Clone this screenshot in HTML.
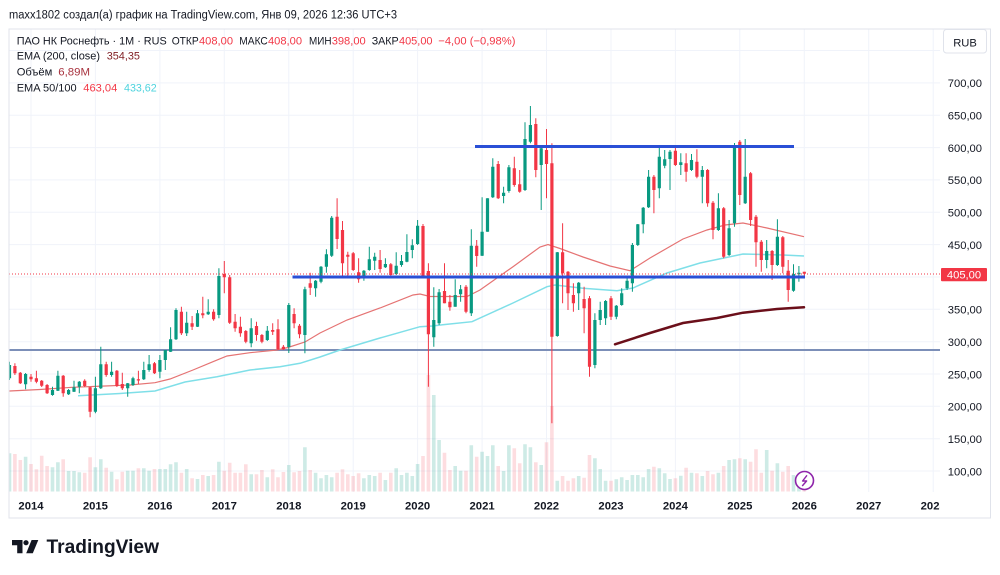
<!DOCTYPE html>
<html><head><meta charset="utf-8"><style>
html,body{margin:0;padding:0;background:#fff;width:1000px;height:575px;overflow:hidden}
svg{display:block}
text{font-family:"Liberation Sans","DejaVu Sans",sans-serif}
</style></head><body>
<svg width="1000" height="575" viewBox="0 0 1000 575" xmlns="http://www.w3.org/2000/svg">
<defs>
<clipPath id="plot"><rect x="9.5" y="29.5" width="930.5" height="463"/></clipPath>
<clipPath id="taxis"><rect x="9.5" y="493" width="930.5" height="25"/></clipPath>
</defs>
<rect width="1000" height="575" fill="#fff"/>
<text x="9" y="18.3" font-size="11.5" fill="#131722" textLength="388" lengthAdjust="spacingAndGlyphs">maxx1802 создал(а) график на TradingView.com, Янв 09, 2026 12:36 UTC+3</text>
<rect x="9" y="29" width="981.5" height="489" fill="none" stroke="#e0e3eb" stroke-width="1"/>
<g clip-path="url(#plot)">
<g stroke="#f0f3fa" stroke-width="1">
<path d="M31 29V492M95.4 29V492M159.9 29V492M224.3 29V492M288.8 29V492M353.2 29V492M417.6 29V492M482.1 29V492M546.5 29V492M611 29V492M675.4 29V492M739.8 29V492M804.3 29V492M868.7 29V492M933.2 29V492"/>
<path d="M9 50.5H940M9 82.9H940M9 115.2H940M9 147.6H940M9 179.9H940M9 212.3H940M9 244.6H940M9 277H940M9 309.3H940M9 341.7H940M9 374H940M9 406.3H940M9 438.7H940M9 471H940"/>
</g>
<path fill="rgba(8,153,129,0.2)" d="M7.7 453.3h3.6V491.5h-3.6zM23.8 456.7h3.6V491.5h-3.6zM50.7 467.3h3.6V491.5h-3.6zM56.1 462.3h3.6V491.5h-3.6zM66.8 471h3.6V491.5h-3.6zM72.2 471h3.6V491.5h-3.6zM77.5 472.3h3.6V491.5h-3.6zM93.6 467.3h3.6V491.5h-3.6zM99 459.3h3.6V491.5h-3.6zM109.8 471.7h3.6V491.5h-3.6zM125.9 470.7h3.6V491.5h-3.6zM131.2 470.7h3.6V491.5h-3.6zM142 468.3h3.6V491.5h-3.6zM147.3 470.7h3.6V491.5h-3.6zM158.1 469h3.6V491.5h-3.6zM163.5 469h3.6V491.5h-3.6zM168.8 464.3h3.6V491.5h-3.6zM174.2 462.3h3.6V491.5h-3.6zM184.9 469h3.6V491.5h-3.6zM195.7 479h3.6V491.5h-3.6zM206.4 476h3.6V491.5h-3.6zM217.1 461.7h3.6V491.5h-3.6zM249.4 474.3h3.6V491.5h-3.6zM265.5 477.3h3.6V491.5h-3.6zM287 465h3.6V491.5h-3.6zM303.1 447.3h3.6V491.5h-3.6zM313.8 472.7h3.6V491.5h-3.6zM319.2 478.3h3.6V491.5h-3.6zM324.6 475h3.6V491.5h-3.6zM329.9 477.3h3.6V491.5h-3.6zM362.1 478.3h3.6V491.5h-3.6zM367.5 475h3.6V491.5h-3.6zM372.9 476h3.6V491.5h-3.6zM383.6 480h3.6V491.5h-3.6zM394.4 468.3h3.6V491.5h-3.6zM399.7 475h3.6V491.5h-3.6zM405.1 472.7h3.6V491.5h-3.6zM410.5 476h3.6V491.5h-3.6zM415.8 464h3.6V491.5h-3.6zM432 395h3.6V491.5h-3.6zM437.3 440h3.6V491.5h-3.6zM453.4 466h3.6V491.5h-3.6zM458.8 470.7h3.6V491.5h-3.6zM469.5 445.3h3.6V491.5h-3.6zM480.3 451.7h3.6V491.5h-3.6zM485.7 456h3.6V491.5h-3.6zM491 445.3h3.6V491.5h-3.6zM501.8 471h3.6V491.5h-3.6zM507.1 445.3h3.6V491.5h-3.6zM523.2 444.3h3.6V491.5h-3.6zM528.6 447.3h3.6V491.5h-3.6zM539.4 465h3.6V491.5h-3.6zM555.5 480.7h3.6V491.5h-3.6zM576.9 476h3.6V491.5h-3.6zM593.1 458.3h3.6V491.5h-3.6zM598.4 469h3.6V491.5h-3.6zM603.8 480.7h3.6V491.5h-3.6zM614.5 479.3h3.6V491.5h-3.6zM619.9 477.3h3.6V491.5h-3.6zM625.3 480h3.6V491.5h-3.6zM630.6 475h3.6V491.5h-3.6zM636 475h3.6V491.5h-3.6zM641.4 477.3h3.6V491.5h-3.6zM646.8 469h3.6V491.5h-3.6zM657.5 468.3h3.6V491.5h-3.6zM662.9 473.3h3.6V491.5h-3.6zM668.2 479h3.6V491.5h-3.6zM679 475.7h3.6V491.5h-3.6zM689.7 472.7h3.6V491.5h-3.6zM700.5 476h3.6V491.5h-3.6zM716.6 472.7h3.6V491.5h-3.6zM727.3 460h3.6V491.5h-3.6zM732.7 459.3h3.6V491.5h-3.6zM743.4 459.3h3.6V491.5h-3.6zM764.9 450h3.6V491.5h-3.6zM775.6 463.3h3.6V491.5h-3.6zM791.7 475h3.6V491.5h-3.6zM797.1 478h3.6V491.5h-3.6z"/>
<path fill="rgba(242,54,69,0.17)" d="M13.1 454h3.6V491.5h-3.6zM18.5 460h3.6V491.5h-3.6zM29.2 464h3.6V491.5h-3.6zM34.6 469.3h3.6V491.5h-3.6zM39.9 455.7h3.6V491.5h-3.6zM45.3 466h3.6V491.5h-3.6zM61.4 459.3h3.6V491.5h-3.6zM82.9 472.7h3.6V491.5h-3.6zM88.3 457.3h3.6V491.5h-3.6zM104.4 467.7h3.6V491.5h-3.6zM115.1 479.3h3.6V491.5h-3.6zM120.5 471.7h3.6V491.5h-3.6zM136.6 468.3h3.6V491.5h-3.6zM152.7 469h3.6V491.5h-3.6zM179.6 472.7h3.6V491.5h-3.6zM190.3 478.3h3.6V491.5h-3.6zM201 475h3.6V491.5h-3.6zM211.8 475h3.6V491.5h-3.6zM222.5 470.7h3.6V491.5h-3.6zM227.9 462.7h3.6V491.5h-3.6zM233.3 472.7h3.6V491.5h-3.6zM238.6 472.7h3.6V491.5h-3.6zM244 464.3h3.6V491.5h-3.6zM254.7 474.3h3.6V491.5h-3.6zM260.1 470h3.6V491.5h-3.6zM270.9 469.3h3.6V491.5h-3.6zM276.2 477.3h3.6V491.5h-3.6zM281.6 472h3.6V491.5h-3.6zM292.3 472.3h3.6V491.5h-3.6zM297.7 471h3.6V491.5h-3.6zM308.4 470h3.6V491.5h-3.6zM335.3 472.7h3.6V491.5h-3.6zM340.7 469.3h3.6V491.5h-3.6zM346 474.3h3.6V491.5h-3.6zM351.4 476h3.6V491.5h-3.6zM356.8 473.3h3.6V491.5h-3.6zM378.3 472.7h3.6V491.5h-3.6zM389 472.7h3.6V491.5h-3.6zM421.2 456h3.6V491.5h-3.6zM426.6 375h3.6V491.5h-3.6zM442.7 452.7h3.6V491.5h-3.6zM448.1 470h3.6V491.5h-3.6zM464.2 470.7h3.6V491.5h-3.6zM474.9 456.7h3.6V491.5h-3.6zM496.4 466h3.6V491.5h-3.6zM512.5 448.3h3.6V491.5h-3.6zM517.9 463.3h3.6V491.5h-3.6zM534 462.3h3.6V491.5h-3.6zM544.7 442.3h3.6V491.5h-3.6zM550.1 406h3.6V491.5h-3.6zM560.8 476h3.6V491.5h-3.6zM566.2 480.7h3.6V491.5h-3.6zM571.6 478.3h3.6V491.5h-3.6zM582.3 477.7h3.6V491.5h-3.6zM587.7 455h3.6V491.5h-3.6zM609.2 480.7h3.6V491.5h-3.6zM652.1 466.7h3.6V491.5h-3.6zM673.6 478.3h3.6V491.5h-3.6zM684.3 467.7h3.6V491.5h-3.6zM695.1 473.3h3.6V491.5h-3.6zM705.8 471h3.6V491.5h-3.6zM711.2 474.3h3.6V491.5h-3.6zM721.9 466h3.6V491.5h-3.6zM738 458.3h3.6V491.5h-3.6zM748.8 461.7h3.6V491.5h-3.6zM754.2 449.3h3.6V491.5h-3.6zM759.5 472.7h3.6V491.5h-3.6zM770.3 470.7h3.6V491.5h-3.6zM781 471.7h3.6V491.5h-3.6zM786.4 466h3.6V491.5h-3.6zM802.5 485h3.6V491.5h-3.6z"/>
<path d="M9 350H940" stroke="#7c8fb8" stroke-width="2" fill="none"/>
<polyline fill="none" stroke="#e57373" stroke-width="1.2" points="9,391 40,389.5 72,387.3 105,386 130,385 155,382.7 170,379 193,370 213,361.7 227,356 250,352.7 277,350 288,347.5 305,342 320,333 347,320 380,308 413,295 420,294 430,296.5 467,296.5 480,290 513,266.7 540,247 548,244.5 560,248.5 583,257 610,266 630,270.7 650,258 683,239 707,230 725,225 743,223 767,228 804,236.7"/>
<polyline fill="none" stroke="#7fdfe8" stroke-width="1.5" points="78,395.7 120,393.5 155,391 185,382 217,376.7 250,370 280,366.7 300,363.3 320,357 340,350 380,338 420,326.7 432,326 445,324.5 472,321.7 513,303 547,286.7 555,285 583,288.3 617,290.7 633,288 667,273 700,263 743,254 783,255 804,256"/>
<polyline fill="none" stroke="#6b0f1a" stroke-width="2.5" stroke-linecap="round" points="615,344.3 650,333 683,323 717,318 743,312.7 777,309 804,307.3"/>
<path fill="none" stroke="#089981" stroke-width="1" d="M9.5 361.7V380M25.6 373V389.3M52.5 386.7V395.7M57.9 370.7V391M68.6 389V395M74 380.7V392M79.3 381V393.3M95.4 376.7V413.3M100.8 346.7V389M111.6 361.7V376.7M127.7 383V396.7M133 376.7V386M143.8 361.7V380M149.1 355V371.7M159.9 355V378.3M165.3 350V370M170.6 327.3V352M176 308.3V340M186.7 311.7V336M197.5 310V327M208.2 299.3V315M218.9 268.3V318.3M251.2 318.3V347.3M267.3 326V341M288.8 303V353M304.9 286.7V353.3M315.6 280V296.7M321 266V283.3M326.4 249.3V272.7M331.7 216V257M363.9 270V280.7M369.3 246.7V270.7M374.7 252.7V270M385.4 258.3V268M396.2 252.3V275M401.5 255V266.7M406.9 234.3V262.3M412.3 239.3V258.3M417.6 220V245M433.8 287.3V346.7M439.1 289V325M455.2 279.3V306.7M460.6 285V301.7M471.3 229.3V316M482.1 197.3V256M487.5 198.3V231.7M492.8 158.3V198M503.6 186.7V203.3M508.9 165V192.7M525 122.3V191M530.4 106V143.3M541.2 148V210M557.3 252V336.7M578.7 282V310M594.9 313.3V368.3M600.2 301.7V325M605.6 300V325M616.3 305V319.3M621.7 288.3V305.7M627.1 278V290M632.4 243V291.7M637.8 224V246M643.2 207V233.3M648.6 170V208M659.3 145V198.3M664.7 150V168.3M670 150V190M680.8 153.3V175M691.5 154V171M702.3 166V203.3M718.4 193.3V231M729.1 220V256M734.5 143V226.7M745.2 139V204M766.7 240V268.3M777.4 219.3V266M793.5 264.3V291.7M798.9 266V281.7"/>
<path fill="#089981" d="M7.9 365h3.2V378.3h-3.2zM24 374h3.2V384.3h-3.2zM50.9 390h3.2V395h-3.2zM56.3 375.7h3.2V390.7h-3.2zM67 390h3.2V394.3h-3.2zM72.4 387.3h3.2V391.7h-3.2zM77.7 381.7h3.2V386.7h-3.2zM93.8 388.3h3.2V411.7h-3.2zM99.2 364.3h3.2V388.3h-3.2zM110 371.7h3.2V375h-3.2zM126.1 383.3h3.2V388.3h-3.2zM131.4 378.3h3.2V385h-3.2zM142.2 370h3.2V379.3h-3.2zM147.5 364.3h3.2V370h-3.2zM158.3 360h3.2V371.7h-3.2zM163.7 350h3.2V360h-3.2zM169 339.3h3.2V351.7h-3.2zM174.4 310h3.2V339.3h-3.2zM185.1 322.7h3.2V333.3h-3.2zM195.9 313.3h3.2V326.7h-3.2zM206.6 311.7h3.2V314.3h-3.2zM217.3 276h3.2V315h-3.2zM249.6 328.3h3.2V343.3h-3.2zM265.7 330.7h3.2V340h-3.2zM287.2 305h3.2V347h-3.2zM303.3 289.3h3.2V335h-3.2zM314 280.7h3.2V288.3h-3.2zM319.4 266.7h3.2V281.7h-3.2zM324.8 254.3h3.2V266.7h-3.2zM330.1 217.7h3.2V255.7h-3.2zM362.3 270.7h3.2V277.7h-3.2zM367.7 259.3h3.2V270h-3.2zM373.1 256.7h3.2V260.7h-3.2zM383.8 264h3.2V267.3h-3.2zM394.6 265.7h3.2V274h-3.2zM399.9 261h3.2V265h-3.2zM405.3 252h3.2V261.7h-3.2zM410.7 245.3h3.2V250h-3.2zM416 225.7h3.2V244h-3.2zM432.2 320h3.2V337.3h-3.2zM437.5 292.3h3.2V323.3h-3.2zM453.6 295h3.2V306.7h-3.2zM459 289.3h3.2V294.3h-3.2zM469.7 245.7h3.2V313.3h-3.2zM480.5 231.7h3.2V255.7h-3.2zM485.9 198.3h3.2V231.7h-3.2zM491.2 166.7h3.2V197.3h-3.2zM502 192.7h3.2V196h-3.2zM507.3 167.3h3.2V191h-3.2zM523.4 139h3.2V190h-3.2zM528.8 125h3.2V141.7h-3.2zM539.6 148.3h3.2V165h-3.2zM555.7 252.3h3.2V336h-3.2zM577.1 282.7h3.2V293.3h-3.2zM593.3 320h3.2V365h-3.2zM598.6 310h3.2V320h-3.2zM604 301h3.2V318.3h-3.2zM614.7 305.7h3.2V316.7h-3.2zM620.1 293.3h3.2V305h-3.2zM625.5 280.7h3.2V288.3h-3.2zM630.8 245h3.2V283.3h-3.2zM636.2 224.3h3.2V245h-3.2zM641.6 207.7h3.2V224.3h-3.2zM647 176.7h3.2V207.3h-3.2zM657.7 156.7h3.2V188.3h-3.2zM663.1 159.3h3.2V165.7h-3.2zM668.4 151.7h3.2V159h-3.2zM679.2 162.3h3.2V165h-3.2zM689.9 160h3.2V170h-3.2zM700.7 170h3.2V176.7h-3.2zM716.8 208.3h3.2V230h-3.2zM727.5 228.3h3.2V255h-3.2zM732.9 145h3.2V223.3h-3.2zM743.6 176.7h3.2V203.3h-3.2zM765.1 251h3.2V260h-3.2zM775.8 236.7h3.2V265h-3.2zM791.9 274h3.2V290.7h-3.2zM797.3 272.7h3.2V274.3h-3.2z"/>
<path fill="none" stroke="#f23645" stroke-width="1" d="M14.9 363.3V375M20.3 372V384M31 374V381.7M36.4 370.7V383.3M41.7 380V387M47.1 384V394M63.2 375V396.7M84.7 379.3V387M90.1 387V417.3M106.2 361.7V376.7M116.9 370V387M122.3 372.7V390M138.4 370.7V384M154.5 362V374M181.4 306.7V335M192.1 316V330M202.8 296.7V318.3M213.6 309.3V320.7M224.3 261V293.3M229.7 275V324M235.1 314V331.7M240.4 316.7V336.7M245.8 330V343.3M256.5 321.7V340.7M261.9 334V343.3M272.7 323.3V335M278 319.3V350M283.4 345V350M294.1 308.3V328.3M299.5 324V338.3M310.2 272.7V295M337.1 198.3V249M342.5 221V276.7M347.8 251.7V276.7M353.2 252V271M358.6 258.3V282.7M380.1 250V272.7M390.8 263V276.7M423 224V276.7M428.4 263.3V386.7M444.5 263.3V303.3M449.9 295V310.7M466 285V313.3M476.7 240V266.7M498.2 161V199M514.3 156.7V186.7M519.7 170V192.7M535.8 118.3V177.3M546.5 129V198.3M551.9 143.3V423.3M562.6 223.3V303.3M568 271V310M573.4 283.3V311.7M584.1 286.7V333.3M589.5 296V376.7M611 296V320M653.9 175V213.3M675.4 145V166M686.1 153.3V181.7M696.9 149.3V178.3M707.6 169V206.7M713 201V239.3M723.7 207V258.3M739.8 140V205M750.6 172V226M756 215V266.7M761.3 240V271.7M772.1 250V280M782.8 236V273.3M788.2 260V301.7M804.3 271.8V278.3"/>
<path fill="#f23645" d="M13.3 366h3.2V373.3h-3.2zM18.7 372.7h3.2V383.3h-3.2zM29.4 376.7h3.2V379.3h-3.2zM34.8 378.3h3.2V381.7h-3.2zM40.1 380.7h3.2V385.7h-3.2zM45.5 385h3.2V393.3h-3.2zM61.6 375.7h3.2V393.3h-3.2zM83.1 380.7h3.2V386h-3.2zM88.5 387.3h3.2V411.7h-3.2zM104.6 364.3h3.2V375h-3.2zM115.3 370.7h3.2V386h-3.2zM120.7 384h3.2V388.3h-3.2zM136.8 379.3h3.2V380.5h-3.2zM152.9 363.3h3.2V373.3h-3.2zM179.8 311.7h3.2V333.3h-3.2zM190.5 323.3h3.2V326.7h-3.2zM201.2 313.3h3.2V315.3h-3.2zM212 311.7h3.2V319.3h-3.2zM222.7 274h3.2V277.3h-3.2zM228.1 277.3h3.2V322.7h-3.2zM233.5 321.7h3.2V328.3h-3.2zM238.8 326.7h3.2V333.3h-3.2zM244.2 331h3.2V341.7h-3.2zM254.9 326h3.2V335h-3.2zM260.3 335h3.2V341.7h-3.2zM271.1 330h3.2V331.7h-3.2zM276.4 329.3h3.2V349.3h-3.2zM281.8 346.7h3.2V349.3h-3.2zM292.5 314h3.2V323.3h-3.2zM297.9 325.7h3.2V334.3h-3.2zM308.6 283.3h3.2V287.7h-3.2zM335.5 216.7h3.2V239h-3.2zM340.9 230h3.2V263.3h-3.2zM346.2 254.7h3.2V256.7h-3.2zM351.6 253.3h3.2V270h-3.2zM357 272.3h3.2V279.3h-3.2zM378.5 260h3.2V269h-3.2zM389.2 264.3h3.2V275h-3.2zM421.4 226h3.2V276.7h-3.2zM426.8 271h3.2V334.3h-3.2zM442.9 291h3.2V303.3h-3.2zM448.3 301.7h3.2V307.3h-3.2zM464.4 286.7h3.2V311.7h-3.2zM475.1 245.7h3.2V256h-3.2zM496.6 164h3.2V198.3h-3.2zM512.7 168.3h3.2V185h-3.2zM518.1 184.3h3.2V191.7h-3.2zM534.2 124h3.2V170h-3.2zM544.9 150h3.2V164h-3.2zM550.3 163.3h3.2V336.7h-3.2zM561 252.3h3.2V273.3h-3.2zM566.4 271.7h3.2V293.3h-3.2zM571.8 295h3.2V303.3h-3.2zM582.5 299h3.2V308.3h-3.2zM587.9 298.3h3.2V366.7h-3.2zM609.4 298.3h3.2V316.7h-3.2zM652.3 176.7h3.2V190h-3.2zM673.8 150.7h3.2V165h-3.2zM684.5 163.3h3.2V171.7h-3.2zM695.3 161.7h3.2V176.7h-3.2zM706 170h3.2V203.3h-3.2zM711.4 202.7h3.2V230h-3.2zM722.1 208.3h3.2V256.7h-3.2zM738.2 141.7h3.2V195h-3.2zM749 173.3h3.2V220h-3.2zM754.4 216.7h3.2V242.3h-3.2zM759.7 241.7h3.2V260h-3.2zM770.5 251h3.2V265h-3.2zM781.2 237.3h3.2V266.7h-3.2zM786.6 270.7h3.2V290h-3.2zM802.7 271.8h3.2V273.8h-3.2z"/>
<path d="M9 274H940" stroke="#f23645" stroke-width="1" stroke-dasharray="1 2" fill="none"/>
<path d="M292.5 277H805" stroke="#2a4fd6" stroke-width="3" fill="none"/>
<path d="M475 146.5H794" stroke="#2a4fd6" stroke-width="3" fill="none"/>
</g>
<circle cx="804.5" cy="480.5" r="9" fill="#fff" stroke="#8e24aa" stroke-width="1.6"/>
<path d="M807 475.3L802.6 481H806.6L802.2 486" fill="none" stroke="#8e24aa" stroke-width="1.4" stroke-linejoin="round"/>
<g font-size="11.3" font-weight="bold" fill="#131722" text-anchor="middle" clip-path="url(#taxis)">
<text x="31" y="509.3">2014</text><text x="95.4" y="509.3">2015</text><text x="159.9" y="509.3">2016</text><text x="224.3" y="509.3">2017</text><text x="288.8" y="509.3">2018</text><text x="353.2" y="509.3">2019</text><text x="417.6" y="509.3">2020</text><text x="482.1" y="509.3">2021</text><text x="546.5" y="509.3">2022</text><text x="611" y="509.3">2023</text><text x="675.4" y="509.3">2024</text><text x="739.8" y="509.3">2025</text><text x="804.3" y="509.3">2026</text><text x="868.7" y="509.3">2027</text><text x="933.2" y="509.3">2028</text>
</g>
<g font-size="11.2" fill="#131722" text-anchor="end">
<text x="982" y="87.2">700,00</text><text x="982" y="119.5">650,00</text><text x="982" y="151.9">600,00</text><text x="982" y="184.2">550,00</text><text x="982" y="216.6">500,00</text><text x="982" y="248.9">450,00</text><text x="982" y="313.6">350,00</text><text x="982" y="346">300,00</text><text x="982" y="378.3">250,00</text><text x="982" y="410.6">200,00</text><text x="982" y="443">150,00</text><text x="982" y="475.3">100,00</text>
</g>
<rect x="941" y="268" width="46" height="13.3" rx="1" fill="#f23645"/>
<text x="964" y="278.4" font-size="11.2" fill="#fff" text-anchor="middle">405,00</text>
<rect x="943.5" y="29.5" width="43" height="23.5" rx="3" fill="#fff" stroke="#e0e3eb"/>
<text x="965" y="46.5" font-size="11.2" fill="#131722" text-anchor="middle">RUB</text>
<g font-size="11.2">
<text x="16.7" y="44.3" fill="#131722" textLength="150" lengthAdjust="spacingAndGlyphs">ПАО НК Роснефть · 1M · RUS</text>
<text x="171.7" y="44.3" fill="#131722" textLength="27" lengthAdjust="spacingAndGlyphs">ОТКР</text>
<text x="199" y="44.3" fill="#f23645" textLength="34" lengthAdjust="spacingAndGlyphs">408,00</text>
<text x="239.3" y="44.3" fill="#131722" textLength="28.5" lengthAdjust="spacingAndGlyphs">МАКС</text>
<text x="268" y="44.3" fill="#f23645" textLength="34" lengthAdjust="spacingAndGlyphs">408,00</text>
<text x="309" y="44.3" fill="#131722" textLength="22.5" lengthAdjust="spacingAndGlyphs">МИН</text>
<text x="331.7" y="44.3" fill="#f23645" textLength="34" lengthAdjust="spacingAndGlyphs">398,00</text>
<text x="371.7" y="44.3" fill="#131722" textLength="27" lengthAdjust="spacingAndGlyphs">ЗАКР</text>
<text x="399" y="44.3" fill="#f23645" textLength="33.5" lengthAdjust="spacingAndGlyphs">405,00</text>
<text x="438.3" y="44.3" fill="#f23645">−4,00 (−0,98%)</text>
<text x="16.7" y="59.3" fill="#131722" textLength="83.3" lengthAdjust="spacingAndGlyphs">EMA (200, close)</text>
<text x="106.7" y="59.3" fill="#7f1d24" textLength="33.3" lengthAdjust="spacingAndGlyphs">354,35</text>
<text x="16.7" y="75.3" fill="#131722" textLength="35.6" lengthAdjust="spacingAndGlyphs">Объём</text>
<text x="58.3" y="75.3" fill="#a8323e" textLength="31.7" lengthAdjust="spacingAndGlyphs">6,89M</text>
<text x="16.7" y="91.5" fill="#131722" textLength="60" lengthAdjust="spacingAndGlyphs">EMA 50/100</text>
<text x="83.3" y="91.5" fill="#f23645" textLength="34" lengthAdjust="spacingAndGlyphs">463,04</text>
<text x="124" y="91.5" fill="#4dd3de" textLength="32.7" lengthAdjust="spacingAndGlyphs">433,62</text>
</g>
<g fill="#131722">
<path d="M12 540H22.5V553.2H17.2V545.3H12Z"/>
<circle cx="26" cy="542.7" r="2.6"/>
<path d="M31.6 540H38.3L32.8 553.2H26.2Z"/>
<text x="46.5" y="553" font-size="19" font-weight="bold" textLength="112.5" lengthAdjust="spacingAndGlyphs">TradingView</text>
</g>
</svg>
</body></html>
